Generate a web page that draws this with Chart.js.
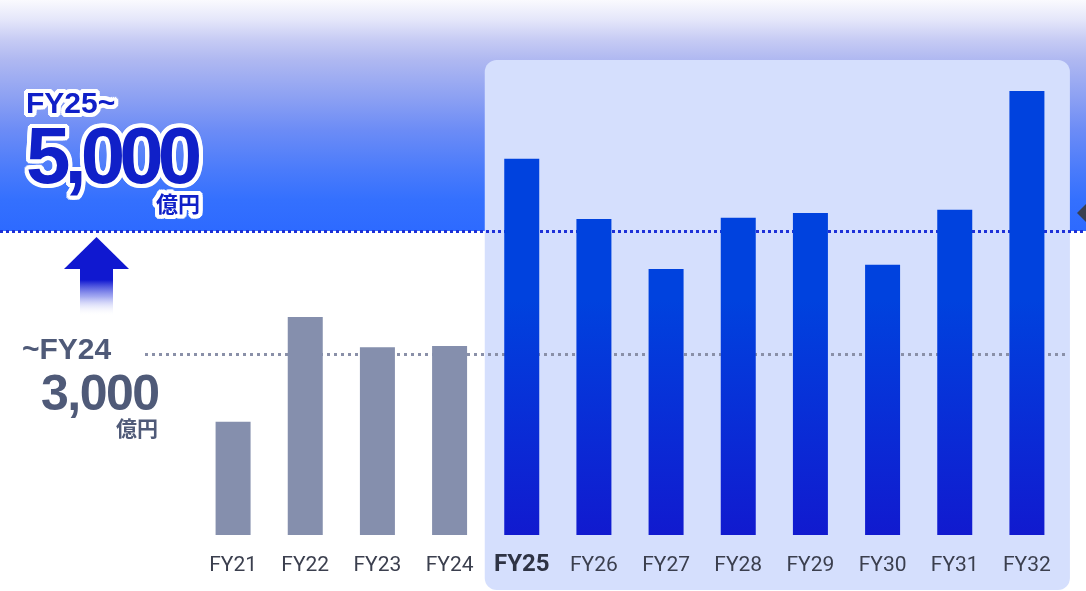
<!DOCTYPE html>
<html>
<head>
<meta charset="utf-8">
<script src="https://cdn.jsdelivr.net/npm/chart.js@4"></script>
<style>
  html, body { margin: 0; padding: 0; background: #fff; }
  #wrap { position: relative; width: 1086px; height: 591px; overflow: hidden; }
  canvas { position: absolute; left: 0; top: 0; }
  .lbl { position: absolute; line-height: 1; white-space: nowrap; font-family: "Liberation Sans", Arial, sans-serif; font-weight: bold; }
  .jp { font-family: "Noto Sans CJK JP", sans-serif; font-weight: bold; }
  .outline {
    color: #1020c8;
    text-shadow:
      4px 0 0 #fff, -4px 0 0 #fff, 0 4px 0 #fff, 0 -4px 0 #fff,
      3px 3px 0 #fff, -3px 3px 0 #fff, 3px -3px 0 #fff, -3px -3px 0 #fff,
      4px 2px 0 #fff, -4px 2px 0 #fff, 4px -2px 0 #fff, -4px -2px 0 #fff,
      2px 4px 0 #fff, -2px 4px 0 #fff, 2px -4px 0 #fff, -2px -4px 0 #fff;
  }
  .grey { color: #4f5a78; }
</style>
</head>
<body>
<div id="wrap">
  <canvas id="plan" width="1086" height="591"></canvas>
  <div class="lbl outline" style="left:26px; top:88px; font-size:30px;">FY25~</div>
  <div class="lbl outline" style="left:26px; top:116px; font-size:80px; letter-spacing:-6px;">5,000</div>
  <div class="lbl jp outline" style="left:156px; top:191px; font-size:22px;">億円</div>
  <div class="lbl grey" style="left:22px; top:334px; font-size:30px;">~FY24</div>
  <div class="lbl grey" style="left:41px; top:368px; font-size:50px; letter-spacing:-1.5px;">3,000</div>
  <div class="lbl jp grey" style="left:116px; top:417px; font-size:21px;">億円</div>
</div>
<script>
const years = ['FY21', 'FY22', 'FY23', 'FY24', 'FY25', 'FY26', 'FY27', 'FY28', 'FY29', 'FY30', 'FY31', 'FY32'];
const values = [1900, 3600, 3110, 3130, 6170, 5190, 4380, 5210, 5290, 4450, 5340, 7270];
const pastLevel = 3000;
const futureLevel = 5000;
const firstPlanIndex = 4;

// background band, plan panel, dotted level lines, arrow
const decor = {
  id: 'decor',
  beforeDraw(chart) {
    const ctx = chart.ctx;
    const x = chart.scales.x;
    const y = chart.scales.y;
    const yTop = Math.round(y.getPixelForValue(futureLevel));

    ctx.save();
    ctx.fillStyle = '#fff';
    ctx.fillRect(0, 0, chart.width, chart.height);

    const g = ctx.createLinearGradient(0, 0, 0, yTop);
    g.addColorStop(0, '#fafafe');
    g.addColorStop(20 / 231, '#e4e6fa');
    g.addColorStop(40 / 231, '#c6cbf4');
    g.addColorStop(60 / 231, '#afb8f1');
    g.addColorStop(100 / 231, '#8a9ff3');
    g.addColorStop(130 / 231, '#6c8cf6');
    g.addColorStop(170 / 231, '#4a7bfb');
    g.addColorStop(200 / 231, '#3470fe');
    g.addColorStop(1, '#2d6aff');
    ctx.fillStyle = g;
    ctx.fillRect(0, 0, chart.width, yTop);

    // plan panel
    const left = x.getPixelForValue(firstPlanIndex) - 37;
    const right = x.getPixelForValue(years.length - 1) + 43;
    ctx.fillStyle = '#d5dffd';
    ctx.beginPath();
    ctx.roundRect(left, 60, right - left, 530, 12);
    ctx.fill();
    ctx.restore();
  },
  beforeDatasetsDraw(chart) {
    const ctx = chart.ctx;
    const y = chart.scales.y;
    ctx.save();
    ctx.lineWidth = 3;
    ctx.setLineDash([3, 4]);
    ctx.strokeStyle = '#8a90a8';
    const yp = Math.round(y.getPixelForValue(pastLevel)) + 0.5;
    ctx.beginPath();
    ctx.moveTo(145, yp);
    ctx.lineTo(1065, yp);
    ctx.stroke();

    ctx.setLineDash([3, 3]);
    ctx.strokeStyle = '#1e30d8';
    const yf = Math.round(y.getPixelForValue(futureLevel)) + 0.5;
    ctx.beginPath();
    ctx.moveTo(0, yf);
    ctx.lineTo(chart.width, yf);
    ctx.stroke();
    ctx.restore();
  },
  afterDraw(chart) {
    const ctx = chart.ctx;
    ctx.save();
    // up arrow
    ctx.fillStyle = '#1018d0';
    ctx.beginPath();
    ctx.moveTo(96.5, 237);
    ctx.lineTo(129, 269);
    ctx.lineTo(64, 269);
    ctx.closePath();
    ctx.fill();
    const sg = ctx.createLinearGradient(0, 268, 0, 316);
    sg.addColorStop(0, '#1018d0');
    sg.addColorStop(0.25, '#1018d0');
    sg.addColorStop(0.6, 'rgba(90,100,230,0.55)');
    sg.addColorStop(1, 'rgba(255,255,255,0)');
    ctx.fillStyle = sg;
    ctx.fillRect(80, 268, 33, 48);

    // marker at right edge
    ctx.fillStyle = '#3a3f4f';
    ctx.beginPath();
    ctx.moveTo(1077, 213);
    ctx.lineTo(1087, 203);
    ctx.lineTo(1097, 213);
    ctx.lineTo(1087, 223);
    ctx.closePath();
    ctx.fill();
    ctx.restore();
  }
};

function barColor(c) {
  if (c.dataIndex < firstPlanIndex) return '#858fad';
  const area = c.chart.chartArea;
  if (!area) return '#0a30d8';
  const g = c.chart.ctx.createLinearGradient(0, 300, 0, area.bottom);
  g.addColorStop(0, '#0042de');
  g.addColorStop(1, '#111acf');
  return g;
}

new Chart(document.getElementById('plan'), {
  type: 'bar',
  data: {
    labels: years,
    datasets: [
      {
        data: values,
        backgroundColor: barColor,
        borderWidth: 0,
        categoryPercentage: 1,
        barPercentage: 0.485,
      },
    ],
  },
  options: {
    responsive: false,
    animation: false,
    layout: { padding: { left: 197, right: 23, top: 46, bottom: 0 } },
    plugins: {
      legend: { display: false },
      tooltip: { enabled: false },
    },
    scales: {
      x: {
        grid: { display: false },
        border: { display: false },
        afterFit(scale) { scale.height = 56; },
        ticks: {
          padding: 10,
          color: (c) => (c.index === firstPlanIndex ? '#2e3344' : '#3b3f4e'),
          font: (c) => (c.index === firstPlanIndex
            ? { family: 'Roboto', size: 24, weight: 'bold', lineHeight: 1 }
            : { family: 'Roboto', size: 21 }),
        },
      },
      y: {
        display: false,
        min: 60,
        max: 8000,
      },
    },
  },
  plugins: [decor],
});
</script>
</body>
</html>
